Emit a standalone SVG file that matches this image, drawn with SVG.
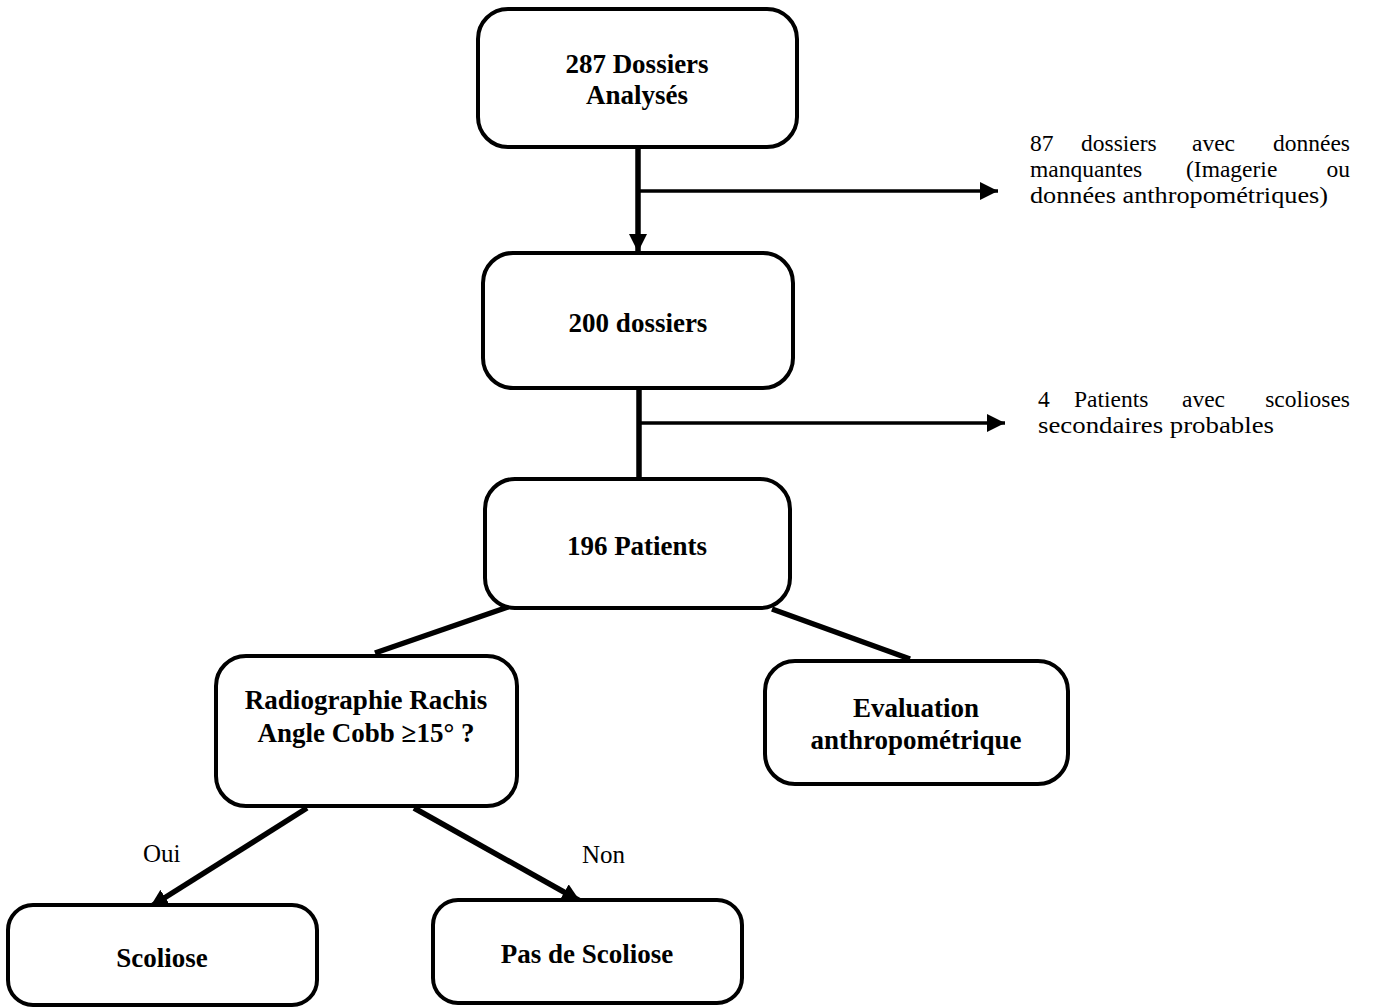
<svg xmlns="http://www.w3.org/2000/svg" width="1374" height="1007" viewBox="0 0 1374 1007">
<defs>
<marker id="ah2" viewBox="0 0 10 10" refX="10" refY="5" markerWidth="18" markerHeight="18" markerUnits="userSpaceOnUse" orient="auto"><path d="M0,0 L10,5 L0,10 z" fill="#000"/></marker>
</defs>
<style>
.box{fill:#fff;stroke:#000;stroke-width:4}
.lb{font-family:"Liberation Serif","Times New Roman",serif;font-weight:bold;font-size:27px;text-anchor:middle;fill:#000}
.tx{font-family:"Liberation Serif","Times New Roman",serif;font-size:23.5px;fill:#000}
.yn{font-family:"Liberation Serif","Times New Roman",serif;font-size:25px;fill:#000}
.e{text-anchor:end}
.c{fill:none;stroke:#000;stroke-width:5.5}
.c3{fill:none;stroke:#000;stroke-width:3.5}
</style>
<rect width="1374" height="1007" fill="#fff"/>
<g id="connectors">
<line class="c" x1="638" y1="147" x2="638" y2="252" marker-end="url(#ah2)"/>
<line class="c3" x1="638" y1="191" x2="998" y2="191" marker-end="url(#ah2)"/>
<line class="c" x1="639" y1="388" x2="639" y2="479"/>
<line class="c3" x1="639" y1="423" x2="1005" y2="423" marker-end="url(#ah2)"/>
<line class="c" x1="508" y1="607" x2="375" y2="653"/>
<line class="c" x1="772" y1="609" x2="910" y2="659"/>
<line class="c" x1="307" y1="808" x2="150" y2="907" marker-end="url(#ah2)"/>
<line class="c" x1="414" y1="808" x2="580" y2="901" marker-end="url(#ah2)"/>
</g>
<g id="n287"><rect class="box" x="478" y="9" width="319" height="138" rx="30"/><text class="lb" x="637" y="73">287 Dossiers</text><text class="lb" x="637" y="104">Analysés</text></g>
<g id="n200"><rect class="box" x="483" y="253" width="310" height="135" rx="30"/><text class="lb" x="638" y="332">200 dossiers</text></g>
<g id="n196"><rect class="box" x="485" y="479" width="305" height="129" rx="30"/><text class="lb" x="637" y="555">196 Patients</text></g>
<g id="nradio"><rect class="box" x="216" y="656" width="301" height="150" rx="30"/><text class="lb" x="366" y="709">Radiographie Rachis</text><text class="lb" x="366" y="742">Angle Cobb ≥15° ?</text></g>
<g id="neval"><rect class="box" x="765" y="661" width="303" height="123" rx="30"/><text class="lb" x="916" y="717">Evaluation</text><text class="lb" x="916" y="749">anthropométrique</text></g>
<g id="nscol"><rect class="box" x="8" y="905" width="309" height="100" rx="25"/><text class="lb" x="162" y="967">Scoliose</text></g>
<g id="npas"><rect class="box" x="433" y="900" width="309" height="103" rx="25"/><text class="lb" x="587" y="963">Pas de Scoliose</text></g>
<g id="labels">
<text class="yn" x="143" y="862">Oui</text>
<text class="yn" x="582" y="863">Non</text>
<g id="excl1">
<text class="tx" x="1030" y="151">87</text><text class="tx" x="1081" y="151">dossiers</text><text class="tx" x="1192" y="151">avec</text><text class="tx e" x="1350" y="151">données</text>
<text class="tx" x="1030" y="177">manquantes</text><text class="tx" x="1186" y="177">(Imagerie</text><text class="tx e" x="1350" y="177">ou</text>
<text class="tx" x="1030" y="203" textLength="298" lengthAdjust="spacingAndGlyphs">données anthropométriques)</text>
</g>
<g id="excl2">
<text class="tx" x="1038" y="407">4</text><text class="tx" x="1074" y="407">Patients</text><text class="tx" x="1182" y="407">avec</text><text class="tx e" x="1350" y="407">scolioses</text>
<text class="tx" x="1038" y="433" textLength="236" lengthAdjust="spacingAndGlyphs">secondaires probables</text>
</g>
</g>
</svg>
